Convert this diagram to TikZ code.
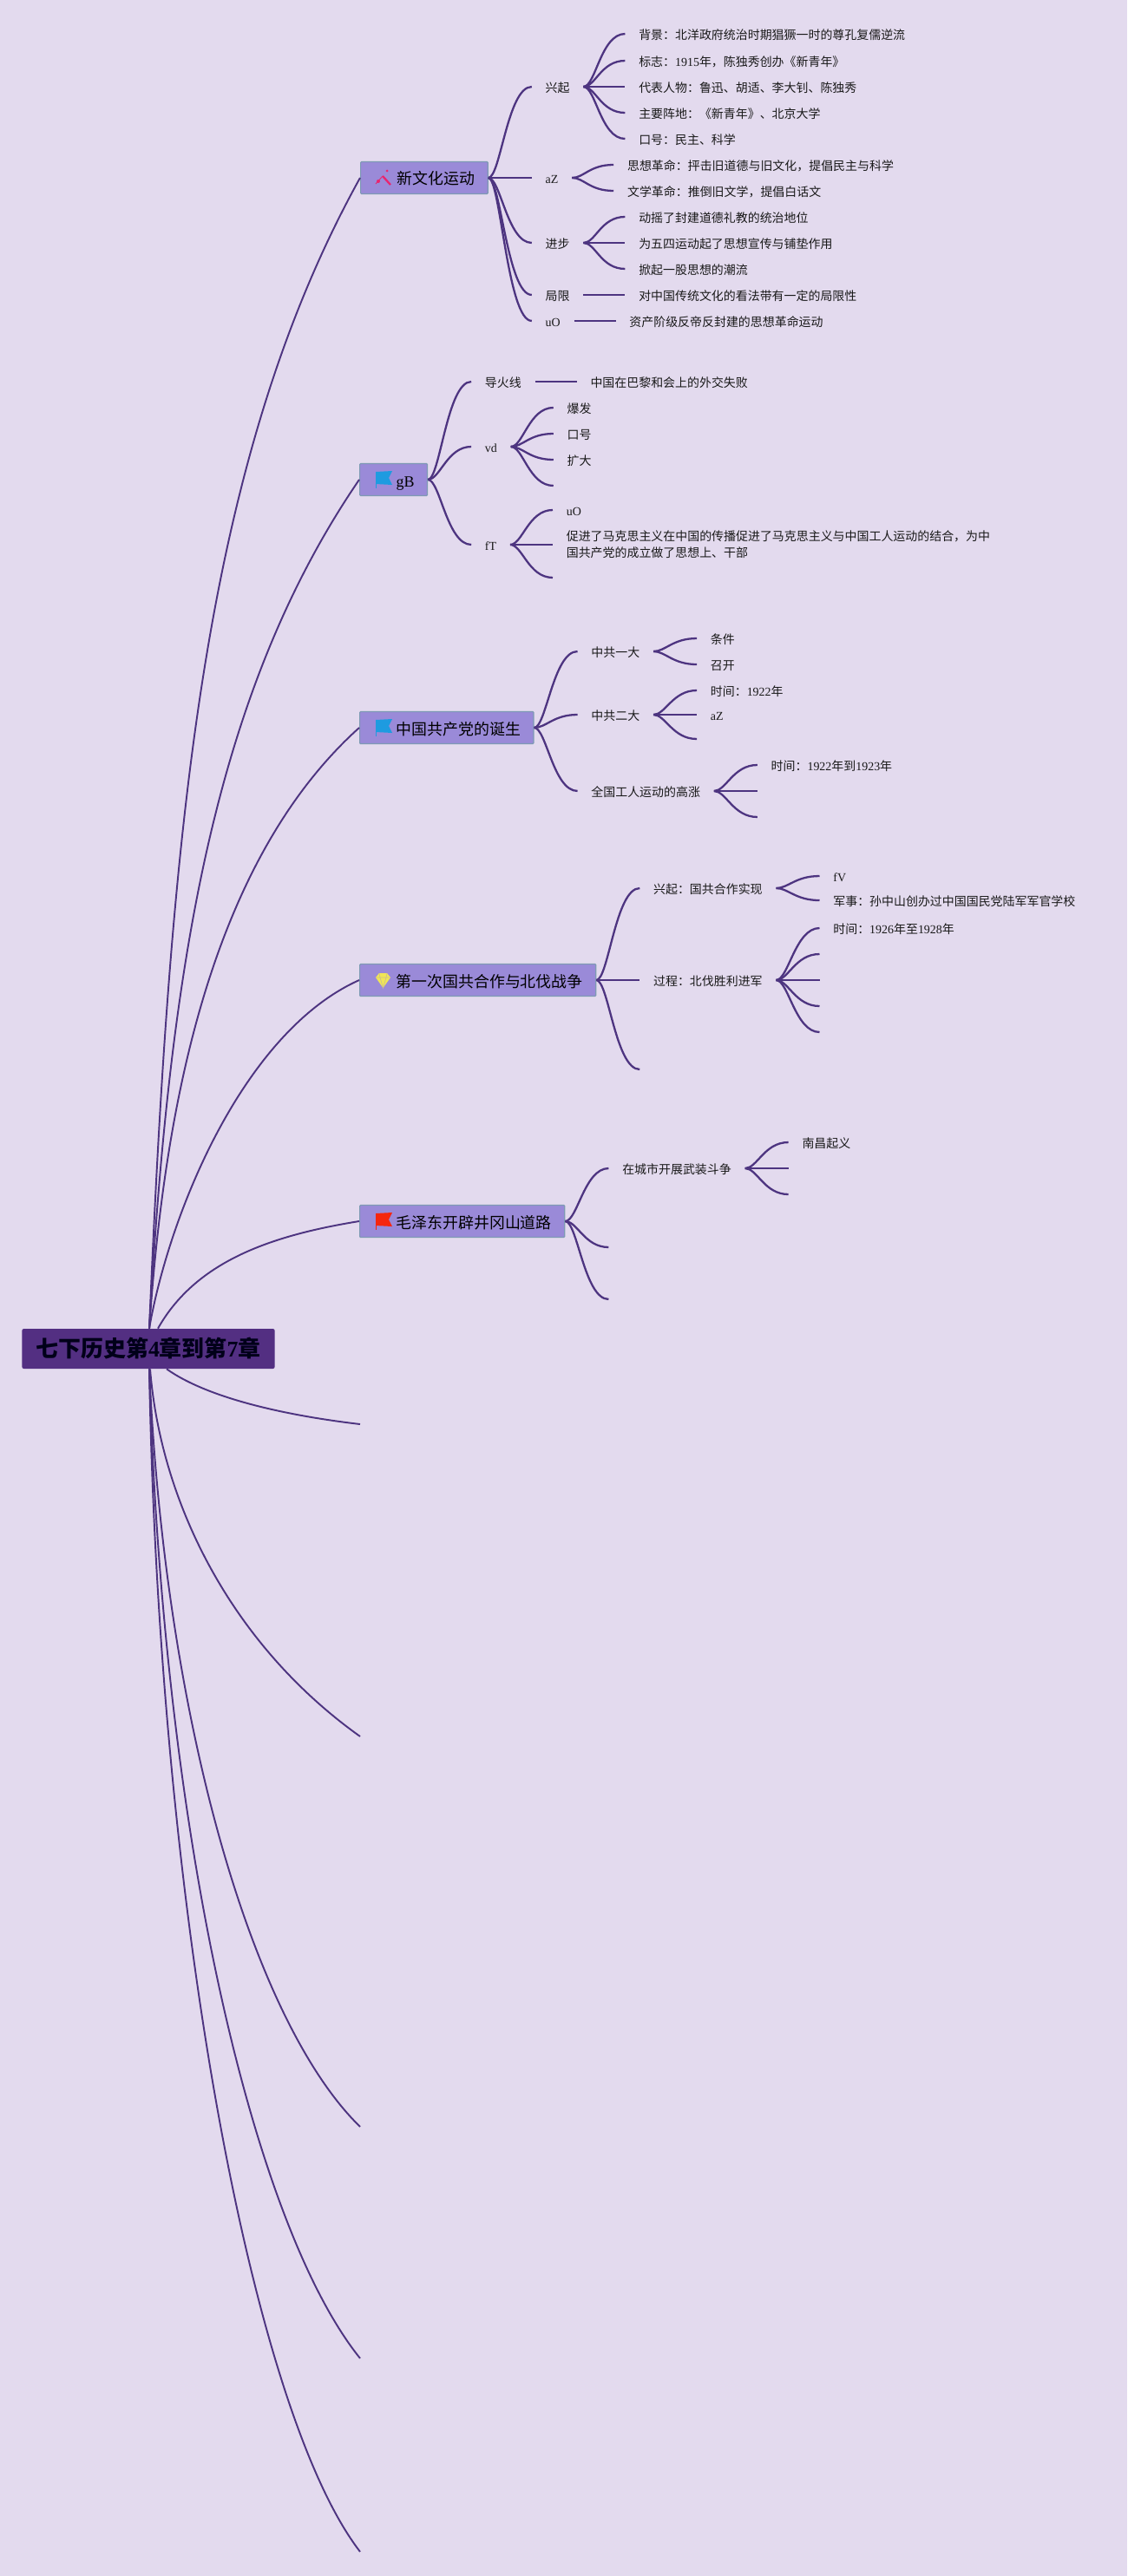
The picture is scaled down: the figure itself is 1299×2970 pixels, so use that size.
\documentclass[tikz,border=0pt]{standalone}
\usepackage{fontspec}
\setmainfont{Noto Sans CJK SC}
\newfontfamily\lat{Liberation Serif}
\usetikzlibrary{positioning}

\definecolor{pagebg}{HTML}{E3DAEE}
\definecolor{rootfill}{HTML}{532F82}
\definecolor{topicfill}{HTML}{9A8AD8}
\definecolor{topicline}{HTML}{7E9AB4}
\definecolor{linkcol}{HTML}{4D3480}
\definecolor{flagblue}{HTML}{1E9BE0}
\definecolor{flagred}{HTML}{F5260F}
\definecolor{gemyellow}{HTML}{F0E656}
\definecolor{sparkpink}{HTML}{E8256F}

\begin{document}
\begin{tikzpicture}[
    x=0.02cm, y=-0.02cm,
    rootbox/.style={rectangle, fill=rootfill, rounded corners=0.04cm, minimum height=0.92cm, inner xsep=0.32cm, text=black!90!blue, font=\fontsize{14.75pt}{18pt}\selectfont\bfseries},
    topicbox/.style={rectangle, draw=topicline, fill=topicfill, line width=0.7pt, rounded corners=0.02cm, anchor=west, minimum height=0.74cm, inner xsep=0.3cm, text height=0.36cm, text depth=0.04cm, font=\fontsize{10.2pt}{13pt}\selectfont},
    item/.style={rectangle, inner xsep=0.31cm, inner ysep=0cm, align=left, text height=0.25cm, text depth=0cm, text=black!90, font=\fontsize{7.94pt}{11pt}\selectfont},
    link/.style={draw=linkcol, line width=1.1pt},
    fan/.style={draw=linkcol, line width=1.3pt, to path={.. controls +(14,0) and +(-28,0) .. (\tikztotarget)}},
    flagicon/.pic={
        \fill[#1] (19,-9) -- (38,-10) -- (34,-2) -- (38,6) -- (19,5) -- cycle;
        \draw[#1, line width=0.5pt] (19,-9) -- (19,10);
    },
    gemicon/.pic={
        \fill[gemyellow] (23,-8) -- (32,-8) -- (36,-3) -- (27.5,9) -- (19,-3) -- cycle;
        \draw[topicfill!40!gemyellow, line width=0.4pt] (19,-3) -- (36,-3) (23,-8) -- (24,-3) -- (27.5,9) -- (31,-3) -- (32,-8);
    },
    sparkicon/.pic={
        \draw[sparkpink, line width=1.3pt] (26,-2) -- (35,8);
        \draw[sparkpink, line width=0.5pt] (26,-2) -- (18,7);
        \fill[sparkpink] (31,-8) circle (1.5) (21,4) circle (2);
    }
]
\fill[pagebg] (0,0) rectangle (1299,2970);

\node[rootbox] (root) at (171,1555) {七下历史第{\lat 4}章到第{\lat 7}章};

% chapters
\node[topicbox] (culture) at (415,205) {\hspace*{0.54cm}新文化运动};
\node[topicbox] (gb) at (414,553) {\hspace*{0.54cm}{\lat gB}};
\node[topicbox] (party) at (414,839) {\hspace*{0.54cm}中国共产党的诞生};
\node[topicbox] (north) at (414,1130) {\hspace*{0.54cm}第一次国共合作与北伐战争};
\node[topicbox] (jinggang) at (414,1408) {\hspace*{0.54cm}毛泽东开辟井冈山道路};
\coordinate (blanka) at (415,1642);
\coordinate (blankb) at (415,2002);
\coordinate (blankc) at (415,2452);
\coordinate (blankd) at (415,2719);
\coordinate (blanke) at (415,2942);

\pic at (culture.west) {sparkicon};
\pic at (gb.west) {flagicon=flagblue};
\pic at (party.west) {flagicon=flagblue};
\pic at (north.west) {gemicon};
\pic at (jinggang.west) {flagicon=flagred};

% new culture
\node[item, right=1cm of culture, yshift=2.1cm] (rise) {兴起};
\node[item, right=0.96cm of rise, yshift=1.22cm] (riseA) {背景：北洋政府统治时期猖獗一时的尊孔复儒逆流};
\node[item, right=0.96cm of rise, yshift=0.6cm] (riseB) {标志：{\lat 1915}年，陈独秀创办《新青年》};
\node[item, right=0.96cm of rise] (riseC) {代表人物：鲁迅、胡适、李大钊、陈独秀};
\node[item, right=0.96cm of rise, yshift=-0.6cm] (riseD) {主要阵地：《新青年》、北京大学};
\node[item, right=0.96cm of rise, yshift=-1.2cm] (riseE) {口号：民主、科学};
\node[item, right=1cm of culture] (az) {{\lat aZ}};
\node[item, right=0.96cm of az, yshift=0.3cm] (azA) {思想革命：抨击旧道德与旧文化，提倡民主与科学};
\node[item, right=0.96cm of az, yshift=-0.3cm] (azB) {文学革命：推倒旧文学，提倡白话文};
\node[item, right=1cm of culture, yshift=-1.5cm] (prog) {进步};
\node[item, right=0.96cm of prog, yshift=0.6cm] (progA) {动摇了封建道德礼教的统治地位};
\node[item, right=0.96cm of prog] (progB) {为五四运动起了思想宣传与铺垫作用};
\node[item, right=0.96cm of prog, yshift=-0.6cm] (progC) {掀起一股思想的潮流};
\node[item, right=1cm of culture, yshift=-2.7cm] (limit) {局限};
\node[item, right=0.96cm of limit] (limitA) {对中国传统文化的看法带有一定的局限性};
\node[item, right=1cm of culture, yshift=-3.3cm] (uo) {{\lat uO}};
\node[item, right=0.96cm of uo] (uoA) {资产阶级反帝反封建的思想革命运动};

% gB
\node[item, right=1cm of gb, yshift=2.26cm] (fuse) {导火线};
\node[item, right=0.96cm of fuse] (fuseA) {中国在巴黎和会上的外交失败};
\node[item, right=1cm of gb, yshift=0.76cm] (vd) {{\lat vd}};
\node[item, right=0.98cm of vd, yshift=0.9cm] (vdA) {爆发};
\node[item, right=0.98cm of vd, yshift=0.3cm] (vdB) {口号};
\node[item, right=0.98cm of vd, yshift=-0.3cm] (vdC) {扩大};
\coordinate[right=0.98cm of vd, yshift=-0.9cm] (vdD);
\node[item, right=1cm of gb, yshift=-1.5cm] (ft) {{\lat fT}};
\node[item, right=0.98cm of ft, yshift=0.8cm] (ftA) {{\lat uO}};
\node[item, right=0.98cm of ft, text height=, text depth=] (ftB) {促进了马克思主义在中国的传播促进了马克思主义与中国工人运动的结合，为中\\国共产党的成立做了思想上、干部};
\coordinate[right=0.98cm of ft, yshift=-0.76cm] (ftC);

% party
\node[item, right=1cm of party, yshift=1.76cm] (first) {中共一大};
\node[item, right=1cm of first, yshift=0.3cm] (firstA) {条件};
\node[item, right=1cm of first, yshift=-0.3cm] (firstB) {召开};
\node[item, right=1cm of party, yshift=0.3cm] (second) {中共二大};
\node[item, right=1cm of second, yshift=0.56cm] (secondA) {时间：{\lat 1922}年};
\node[item, right=1cm of second] (secondB) {{\lat aZ}};
\coordinate[right=1cm of second, yshift=-0.56cm] (secondC);
\node[item, right=1cm of party, yshift=-1.46cm] (labor) {全国工人运动的高涨};
\node[item, right=1cm of labor, yshift=0.6cm] (laborA) {时间：{\lat 1922}年到{\lat 1923}年};
\coordinate[right=1cm of labor] (laborB);
\coordinate[right=1cm of labor, yshift=-0.6cm] (laborC);

% first cooperation
\node[item, right=1cm of north, yshift=2.12cm] (unite) {兴起：国共合作实现};
\node[item, right=1cm of unite, yshift=0.28cm] (uniteA) {{\lat fV}};
\node[item, right=1cm of unite, yshift=-0.28cm] (uniteB) {军事：孙中山创办过中国国民党陆军军官学校};
\node[item, right=1cm of north] (march) {过程：北伐胜利进军};
\node[item, right=1cm of march, yshift=1.2cm] (marchA) {时间：{\lat 1926}年至{\lat 1928}年};
\coordinate[right=1cm of march, yshift=0.6cm] (marchB);
\coordinate[right=1cm of march] (marchC);
\coordinate[right=1cm of march, yshift=-0.6cm] (marchD);
\coordinate[right=1cm of march, yshift=-1.2cm] (marchE);
\coordinate[right=1cm of north, yshift=-2.06cm] (northC);

% jinggang
\node[item, right=1cm of jinggang, yshift=1.22cm] (urban) {在城市开展武装斗争};
\node[item, right=1cm of urban, yshift=0.6cm] (urbanA) {南昌起义};
\coordinate[right=1cm of urban] (urbanB);
\coordinate[right=1cm of urban, yshift=-0.6cm] (urbanC);
\coordinate[right=1cm of jinggang, yshift=-0.6cm] (jinggangB);
\coordinate[right=1cm of jinggang, yshift=-1.8cm] (jinggangC);

% root to chapters
\draw[link] ([xshift=0.02cm]root.north) .. controls +(25,-582) and +(-180,325) .. (culture.west);
\draw[link] ([xshift=0.02cm]root.north) .. controls +(24,-430) and +(-164,240) .. (gb.west);
\draw[link] ([xshift=0.02cm]root.north) .. controls +(16,-232) and +(-179,161) .. (party.west);
\draw[link] ([xshift=0.02cm]root.north) .. controls +(23,-132) and +(-134,60) .. (north.west);
\draw[link] ([xshift=0.22cm]root.north) .. controls +(43,-76) and +(-105,17) .. (jinggang.west);
\draw[link] ([xshift=0.42cm]root.south) .. controls +(48,34) and +(-85,-10) .. (blanka);
\draw[link] ([xshift=0.04cm]root.south) .. controls +(12,152) and +(-150,-107) .. (blankb);
\draw[link] ([xshift=0.02cm]root.south) .. controls +(18,402) and +(-125,-122) .. (blankc);
\draw[link] ([xshift=0.02cm]root.south) .. controls +(16,552) and +(-120,-149) .. (blankd);
\draw[link] ([xshift=0.02cm]root.south) .. controls +(11,622) and +(-125,-162) .. (blanke);

% new culture links
\draw[fan] (culture.east) to (rise.west);
\draw[fan] (culture.east) to (az.west);
\draw[fan] (culture.east) to (prog.west);
\draw[fan] (culture.east) to (limit.west);
\draw[fan] (culture.east) to (uo.west);
\draw[fan] (rise.east) to (riseA.west);
\draw[fan] (rise.east) to (riseB.west);
\draw[fan] (rise.east) to (riseC.west);
\draw[fan] (rise.east) to (riseD.west);
\draw[fan] (rise.east) to (riseE.west);
\draw[fan] (az.east) to (azA.west);
\draw[fan] (az.east) to (azB.west);
\draw[fan] (prog.east) to (progA.west);
\draw[fan] (prog.east) to (progB.west);
\draw[fan] (prog.east) to (progC.west);
\draw[fan] (limit.east) to (limitA.west);
\draw[fan] (uo.east) to (uoA.west);

% gB links
\draw[fan] (gb.east) to (fuse.west);
\draw[fan] (gb.east) to (vd.west);
\draw[fan] (gb.east) to (ft.west);
\draw[fan] (fuse.east) to (fuseA.west);
\draw[fan] (vd.east) to (vdA.west);
\draw[fan] (vd.east) to (vdB.west);
\draw[fan] (vd.east) to (vdC.west);
\draw[fan] (vd.east) to (vdD);
\draw[fan] (ft.east) to (ftA.west);
\draw[fan] (ft.east) to (ftB.west);
\draw[fan] (ft.east) to (ftC);

% party links
\draw[fan] (party.east) to (first.west);
\draw[fan] (party.east) to (second.west);
\draw[fan] (party.east) to (labor.west);
\draw[fan] (first.east) to (firstA.west);
\draw[fan] (first.east) to (firstB.west);
\draw[fan] (second.east) to (secondA.west);
\draw[fan] (second.east) to (secondB.west);
\draw[fan] (second.east) to (secondC);
\draw[fan] (labor.east) to (laborA.west);
\draw[fan] (labor.east) to (laborB);
\draw[fan] (labor.east) to (laborC);

% first cooperation links
\draw[fan] (north.east) to (unite.west);
\draw[fan] (north.east) to (march.west);
\draw[fan] (north.east) to (northC);
\draw[fan] (unite.east) to (uniteA.west);
\draw[fan] (unite.east) to (uniteB.west);
\draw[fan] (march.east) to (marchA.west);
\draw[fan] (march.east) to (marchB);
\draw[fan] (march.east) to (marchC);
\draw[fan] (march.east) to (marchD);
\draw[fan] (march.east) to (marchE);

% jinggang links
\draw[fan] (jinggang.east) to (urban.west);
\draw[fan] (jinggang.east) to (jinggangB);
\draw[fan] (jinggang.east) to (jinggangC);
\draw[fan] (urban.east) to (urbanA.west);
\draw[fan] (urban.east) to (urbanB);
\draw[fan] (urban.east) to (urbanC);
\end{tikzpicture}
\end{document}
